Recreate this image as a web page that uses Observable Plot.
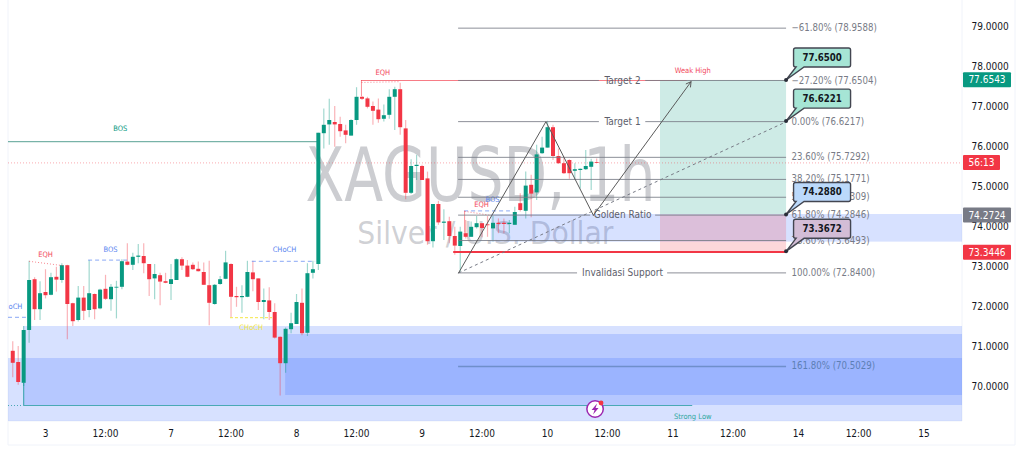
<!DOCTYPE html>
<html>
<head>
<meta charset="utf-8">
<script src="https://cdn.jsdelivr.net/npm/d3@7"></script>
<script src="https://cdn.jsdelivr.net/npm/@observablehq/plot@0.6"></script>
<style>html,body{margin:0;padding:0;background:#fff;overflow:hidden}svg{display:block}</style>
</head>
<body>
<div id="chart"></div>
<script>
const firstBar = -6;
const open = [70.88,70.6,70.08,71.4,72.67,71.92,
72.35,72.28,72.73,72.65,73.02,72.07,71.65,72.21,71.9,72.3,
71.94,72.43,72.17,72.46,72.48,73.11,73.03,73.23,73.25,73.05,
72.69,72.77,72.62,72.55,72.65,73.17,73.01,73.03,72.93,72.85,
72.52,72.05,72.55,72.68,73.05,72.25,72.22,72.23,72.84,72.69,
72.1,72.14,71.85,71.23,70.57,71.42,71.55,72.08,71.33,72.83,
73.05,76.32,76.54,76.6,76.55,76.39,76.26,76.65,77.23,77.19,
77.0,76.91,76.68,76.78,77.23,77.42,76.44,74.83,75.5,75.5,
75.19,73.62,74.55,74.08,74.12,73.75,73.5,73.82,73.73,73.97,
74.07,74.04,73.94,74.08,74.08,74.05,74.03,74.57,74.38,75.03,
74.84,75.82,75.96,76.47,75.75,75.57,75.65,75.38,75.4,75.42,
75.48,75.6];
const close = [70.58,70.1,71.4,72.65,71.92,72.32,
72.27,72.72,72.66,73.02,72.05,71.62,72.21,71.88,72.32,71.92,
72.41,72.18,72.48,72.48,73.12,73.03,73.23,73.26,73.07,72.67,
72.8,72.61,72.58,72.67,73.17,73.01,72.73,72.92,72.87,72.53,
72.08,72.53,72.67,73.09,72.23,72.22,72.25,72.85,72.67,72.1,
72.15,71.85,71.21,70.57,71.43,71.57,72.1,71.32,72.82,72.92,
76.33,76.53,76.65,76.54,76.37,76.28,76.65,77.23,77.18,76.98,
76.88,76.67,76.77,77.23,77.42,76.47,74.83,75.5,75.53,75.15,
73.62,74.55,74.09,74.11,73.75,73.51,73.86,73.73,73.98,74.07,
73.95,74.02,74.08,74.05,74.05,74.08,74.35,74.4,75.01,74.81,
75.79,75.96,76.47,75.75,75.57,75.32,75.32,75.42,75.43,75.5,
75.61,75.58];
const high = [71.12,71.0,71.5,73.13,72.72,72.62,
72.92,72.83,72.98,73.07,73.03,72.08,72.5,72.5,73.15,72.31,
72.43,72.78,72.55,72.63,73.17,73.57,73.33,73.55,73.57,73.05,
73.05,72.83,72.83,73.05,73.19,73.22,73.15,73.09,73.11,73.09,
73.13,72.55,72.75,73.38,73.07,72.48,72.52,73.13,73.13,72.69,
72.44,72.47,72.07,71.24,71.46,71.83,72.3,72.44,73.07,73.13,
76.33,76.94,77.18,77.0,76.73,76.53,76.67,77.47,77.25,77.23,
77.11,77.19,77.04,77.42,77.48,77.58,76.65,75.67,75.78,75.53,
75.36,74.55,74.63,74.42,74.23,73.98,73.98,74.15,74.11,74.25,
74.07,74.25,74.25,74.19,74.19,74.15,74.48,74.82,75.36,75.28,
76.03,76.23,76.63,76.53,75.94,75.73,75.67,75.57,75.44,75.9,
75.68,75.69];
const low = [70.22,70.03,70.0,71.08,71.65,71.65,
72.19,72.27,72.36,72.58,71.17,71.5,71.61,71.65,71.72,71.67,
71.92,72.15,71.88,71.69,72.42,73.02,72.9,73.07,72.82,72.25,
72.17,72.02,72.57,72.15,72.65,72.9,72.72,72.9,72.86,72.53,
71.52,72.03,72.53,72.67,71.72,71.98,71.83,72.22,72.37,71.9,
71.67,71.65,71.19,69.76,70.33,71.32,71.55,71.27,71.25,72.69,
72.9,75.94,76.03,75.98,76.23,76.07,76.26,76.53,77.15,76.94,
76.53,76.58,76.61,76.68,76.4,76.28,74.67,74.8,75.15,75.15,
73.53,73.46,74.03,73.65,73.57,73.28,72.86,73.69,73.73,73.94,
73.72,73.73,73.61,73.82,73.82,73.82,74.03,74.36,74.19,74.22,
74.65,75.8,75.96,75.65,75.55,75.3,75.18,75.15,74.94,75.4,
74.9,75.58];
const candles = open.map((o, k) => ({bar: firstBar + k, open: o, high: high[k], low: low[k], close: close[k], up: close[k] >= o}));

const tickBars = [0,11,23,34,46,57,69,80,92,103,115,126,138,149,161];
const tickNames = ["3","12:00","7","12:00","8","12:00","9","12:00","10","12:00","11","12:00","14","12:00","15"];
const priceTicks = [70,71,72,73,74,75,76,77,78,79];

const fibStart = 75.7, fibEnd = 135.8, domainL = -6.78, domainR = 168.04, positionStart = 112.7;
const fibPrices = [78.9588,77.6504,76.6217,75.7292,75.1771,74.7309,74.2846,73.6493,72.84,70.5029];
const fibLabels = ["\u221261.80% (78.9588)","\u221227.20% (77.6504)","0.00% (76.6217)","23.60% (75.7292)","38.20% (75.1771)","50.00% (74.7309)","61.80% (74.2846)","78.60% (73.6493)","100.00% (72.8400)","161.80% (70.5029)"];
const fibGapFrom = [0,101.5,101.5,0,0,0,99.9,0,97.5,0];
const fibGapTo   = [0,110,110,0,0,0,111.8,0,114,0];
const fibSegs = fibPrices.flatMap((p,k) => fibGapFrom[k]
  ? [{a:fibStart,b:fibGapFrom[k],p},{a:fibGapTo[k],b:fibEnd,p}]
  : [{a:fibStart,b:fibEnd,p}]);
const fibNames = ["Target 2","Target 1","Golden Ratio","Invalidasi Support"];
const fibNamePrices = [77.6504,76.6217,74.2846,72.84];

const zoneX1 = [44,-4,-6.78,81.7];
const zoneTop = [71.3,71.5,70.7,74.3];
const zoneBot = [69.775,69.525,69.125,73.61];
const zones = zoneX1.map((x,k)=>({x,top:zoneTop[k],bot:zoneBot[k]}));

const zigBars = [75.7,91.7,100.4];
const zigPrices = [72.84,76.62,74.28];
const arrowEndBar = 118.3, arrowEndPrice = 77.62;

const smcNames = ["BOS","oCH","EQH","BOS","CHoCH","CHoCH","EQH","Weak High","EQH","BOS","Strong Low"];
const smcBars = [13.7,-5.5,0,11.9,43.8,37.7,61.8,118.6,79.9,81.9,118.6];
const smcPrices = [76.45,72.01,73.31,73.43,73.43,71.47,77.85,77.9,74.56,74.67,69.25];
const smcColors = ["#089981","#5b86f0","#f2495c","#5b86f0","#5b86f0","#f5e642","#f2495c","#f2495c","#f2495c","#5b86f0","#2fa8a0"];
const smcLabels = smcNames.map((t,k)=>({t,x:smcBars[k],p:smcPrices[k],c:smcColors[k]}));

const dashBars1 = [-6.78,7.9,37.9,76.8];
const dashBars2 = [-3.5,15.6,49.5,85.2];
const dashPrices = [71.73,73.16,73.13,74.39];
const dashes = dashBars1.map((a,k)=>({a,b:dashBars2[k],p:dashPrices[k]}));

const calloutPrices = [77.65,76.6221,74.288,73.3672];
const calloutTexts = ["77.6500","76.6221","74.2880","73.3672"];
const calloutFills = ["#a6e5d5","#a6e5d5","#bbd9fb","#d3bdd6"];
const tagPrices = [77.6543,75.59,74.2724,73.3446];
const tagTexts = ["77.6543","56:13","74.2724","73.3446"];
const tagFills = ["#089981","#f23645","#787b86","#f23645"];
const tagWidths = [48,37,48,48];

const FONT = "'DejaVu Sans Condensed','DejaVu Sans',sans-serif";

function chrome(index, {x, y}, values, {width, height, marginBottom, marginRight, marginLeft}) {
  const g = d3.create("svg:g");
  const xr = width - marginRight, yb = height - marginBottom;
  const frame = [[marginLeft,0,marginLeft,445],[marginLeft,445,1015,445],[1015,0,1015,445],[marginLeft,yb,xr,yb],[xr,0,xr,yb]];
  for (const [a,b,c,d] of frame) g.append("line").attr("x1",a).attr("y1",b).attr("x2",c).attr("y2",d).attr("stroke","#f0f3fa");
  return g.node();
}

function fitWidth(w) {
  return (i, s, v, d, c, next) => {
    const g = next(i, s, v, d, c);
    d3.select(g).selectAll("text").attr("textLength", w).attr("lengthAdjust", "spacingAndGlyphs");
    return g;
  };
}

function overlays(index, {x, y}, values, {width, marginRight}) {
  const g = d3.create("svg:g").style("font-family", FONT);
  const xr = width - marginRight;
  calloutPrices.forEach((p,k) => {
    const ax = x(fibEnd), ay = y(p), L = ax+7.5, R = ax+64.5, T = ay-32, B = ay-13;
    g.append("path")
      .attr("d", `M${L+2},${T}H${R-2}Q${R},${T} ${R},${T+2}V${B-2}Q${R},${B} ${R-2},${B}H${ax+18}L${ax},${ay}L${ax+10},${B}H${L+2}Q${L},${B} ${L},${B-2}V${T+2}Q${L},${T} ${L+2},${T}Z`)
      .attr("fill", calloutFills[k]).attr("stroke","#434651").attr("stroke-width",1.4);
    g.append("circle").attr("cx",ax).attr("cy",ay).attr("r",2).attr("fill","#2a2e39");
    g.append("text").attr("x",(L+R)/2).attr("y",(T+B)/2).attr("dy","0.35em").attr("text-anchor","middle")
      .attr("font-size",9.6).attr("font-weight",700).attr("fill","#131722").text(calloutTexts[k]);
  });
  tagPrices.forEach((p,k) => {
    const yy = y(p);
    g.append("rect").attr("x",xr+1).attr("y",yy-7.5).attr("width",tagWidths[k]).attr("height",15).attr("rx",1).attr("fill",tagFills[k]);
    g.append("text").attr("x",xr+1+tagWidths[k]/2).attr("y",yy).attr("dy","0.35em").attr("text-anchor","middle")
      .attr("font-size",10).attr("fill","#fff").text(tagTexts[k]);
  });
  const lx = x(100.8), ly = y(69.425);
  g.append("circle").attr("cx",lx).attr("cy",ly).attr("r",8.2).attr("fill","#fff").attr("stroke","#9c27b0").attr("stroke-width",1.5);
  g.append("path").attr("d",`M${lx+2},${ly-5.5}L${lx-3.5},${ly+1}H${lx-0.5}L${lx-2},${ly+5.5}L${lx+3.5},${ly-1}H${lx+0.5}Z`).attr("fill","#9c27b0");
  g.append("circle").attr("cx",lx+6).attr("cy",ly-6).attr("r",2.4).attr("fill","#f23645");
  return g.node();
}

const fibCol = "#787b86";
const plot = Plot.plot({
  width: 1024, height: 455,
  marginLeft: 8, marginRight: 62, marginTop: 0, marginBottom: 34,
  style: {fontFamily: FONT, fontSize: "10px", background: "#fff", color: "#131722"},
  x: {domain: [domainL, domainR], label: null},
  y: {domain: [69.125, 79.65], label: null},
  marks: [
    chrome,
    // watermark
    Plot.text(["XAGUSD, 1h"], {x: 79.7, y: 75.22, text: d=>d, fontSize: 74, fill: "#787b86", fillOpacity: .38, render: fitWidth(350)}),
    Plot.text(["Silver / U.S. Dollar"], {x: 80.6, y: 73.81, text: d=>d, fontSize: 32, fill: "#787b86", fillOpacity: .36, render: fitWidth(256)}),
    // zones
    Plot.rect(zones, {x1: "x", x2: domainR, y1: "bot", y2: "top", fill: "#2962ff", fillOpacity: .19}),
    Plot.rect([0], {x1: positionStart, x2: fibEnd, y1: 74.29, y2: 77.65, fill: "#089981", fillOpacity: .2}),
    Plot.rect([0], {x1: positionStart, x2: fibEnd, y1: 73.36, y2: 74.29, fill: "#f23645", fillOpacity: .2}),
    // reference lines
    Plot.ruleY([75.59], {x1: domainL, x2: domainR, stroke: "#f23645", strokeOpacity: .42, strokeDasharray: "1,2"}),
    Plot.ruleY([76.12], {x1: domainL, x2: 49.9, stroke: "#2f8a78", strokeOpacity: .8, strokeWidth: 1}),
    Plot.ruleY([69.525], {x1: -4, x2: 118.6, stroke: "#4aa9b5", strokeWidth: 1.2}),
    Plot.ruleY([69.525], {x1: domainL, x2: -4, stroke: "#4aa9b5", strokeDasharray: "1,2"}),
    Plot.ruleX([-4], {y1: 69.525, y2: 70.08, stroke: "#4aa9b5", strokeWidth: 1.2}),
    // candles
    Plot.ruleX(candles, {x: "bar", y1: "low", y2: "high", stroke: d=>d.up ? "#089981" : "#f23645", strokeOpacity: .38, strokeWidth: 1.2}),
    Plot.ruleX(candles, {x: "bar", y1: "open", y2: "close", stroke: d=>d.up ? "#089981" : "#f23645", strokeWidth: 4}),
    // smart money annotations
    Plot.ruleY(dashes, {x1: "a", x2: "b", y: "p", stroke: "#6d92f2", strokeDasharray: "4,3", strokeOpacity: .8}),
    Plot.ruleY([71.72], {x1: 33.9, x2: 41.6, stroke: "#f5e642", strokeDasharray: "3,2"}),
    Plot.link([[-3,73.13,3.3,73.02],[57.9,77.6,64.9,77.62],[76.8,74.38,81.5,74.28]], {x1: d=>d[0], y1: d=>d[1], x2: d=>d[2], y2: d=>d[3], stroke: "#f23645", strokeOpacity: .6, strokeDasharray: "1,2"}),
    Plot.ruleX([57.9], {y1: 77.25, y2: 77.65, stroke: "#f23645", strokeOpacity: .55}),
    Plot.ruleX([76.8], {y1: 73.83, y2: 74.38, stroke: "#f23645", strokeOpacity: .55}),
    Plot.ruleY([77.65], {x1: 57.9, x2: 117.6, stroke: "#f23645", strokeOpacity: .65}),
    Plot.text(smcLabels, {x: "x", y: "p", text: "t", fill: "c", fontSize: 7.5}),
    // fib
    Plot.ruleY(fibSegs.filter(d=>d.p >= 71), {x1: "a", x2: "b", y: "p", stroke: fibCol, strokeWidth: 1, strokeOpacity: .85}),
    Plot.ruleY(fibSegs.filter(d=>d.p < 71), {x1: "a", x2: "b", y: "p", stroke: "#5d7fb5", strokeWidth: 1.5, strokeOpacity: .7}),
    Plot.text(fibPrices, {x: fibEnd, y: d=>d, text: (d,k)=>fibLabels[k], dx: 5, textAnchor: "start", fontSize: 9.6, fill: d=>d < 71 ? "#5d7fb5" : fibCol}),
    Plot.text(fibNamePrices, {x: (fibStart+fibEnd)/2, y: d=>d, text: (d,k)=>fibNames[k], fontSize: 10, fill: "#5d606b"}),
    Plot.ruleY([73.36], {x1: 74.8, x2: fibEnd, stroke: "#f23645", strokeWidth: 2}),
    Plot.link([[fibStart,72.84,fibEnd,76.6217]], {x1: d=>d[0], y1: d=>d[1], x2: d=>d[2], y2: d=>d[3], stroke: fibCol, strokeDasharray: "3,3"}),
    Plot.line(zigBars.map((b,k)=>[b,zigPrices[k]]), {x: d=>d[0], y: d=>d[1], stroke: "#5a5a5a", strokeWidth: 1}),
    Plot.arrow([[zigBars[2],zigPrices[2],arrowEndBar,arrowEndPrice]], {x1: d=>d[0], y1: d=>d[1], x2: d=>d[2], y2: d=>d[3], stroke: "#5a5a5a", strokeWidth: 1, headLength: 8}),
    // axes
    Plot.axisY({anchor: "right", ticks: priceTicks, tickFormat: d3.format(".4f"), tickSize: 0, tickPadding: 9, label: null, fontSize: 10, fill: "#131722"}),
    Plot.axisX({anchor: "bottom", ticks: tickBars, tickFormat: (d)=>tickNames[tickBars.indexOf(d)], tickSize: 0, tickPadding: 8, label: null, fontSize: 10, fill: "#131722"}),
    overlays
  ]
});
document.getElementById("chart").append(plot);
</script>
</body>
</html>
